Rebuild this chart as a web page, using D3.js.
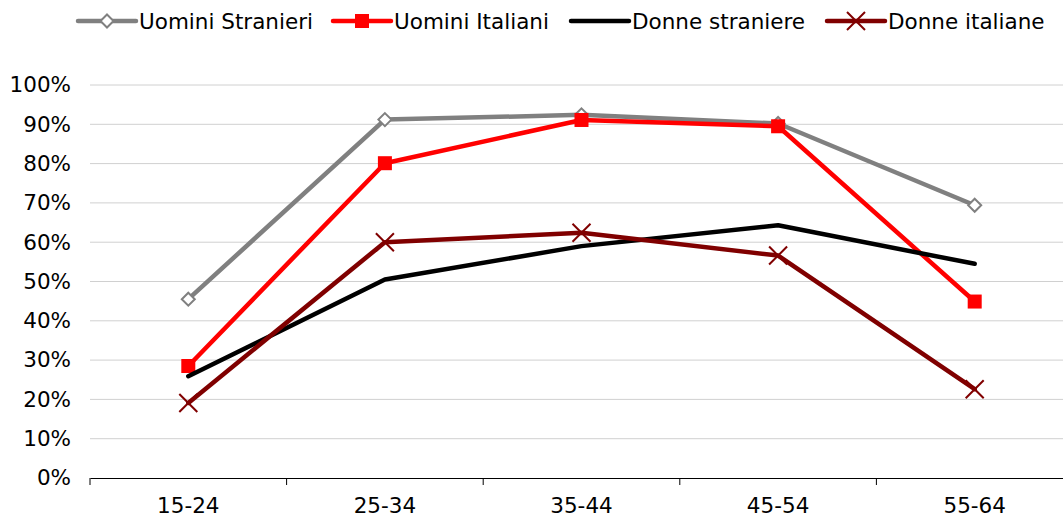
<!DOCTYPE html>
<html>
<head>
<meta charset="utf-8">
<script src="https://cdn.jsdelivr.net/npm/d3@7"></script>
<style>
  html, body { margin: 0; padding: 0; background: #fff; }
  svg { display: block; font-family: "DejaVu Sans", Verdana, sans-serif; }
</style>
</head>
<body>
<svg id="chart" width="1063" height="522"></svg>
<script>
// Tasso di occupazione per classe di età
const categories = ["15-24", "25-34", "35-44", "45-54", "55-64"];
const uominiStranieri = [45.5, 91.2, 92.4, 90.2, 69.4];
const uominiItaliani = [28.5, 80.1, 91.1, 89.5, 44.9];
const donneStraniere = [25.9, 50.5, 59.0, 64.3, 54.5];
const donneItaliane = [19.1, 60.0, 62.4, 56.6, 22.6];
const yTicks = [0, 10, 20, 30, 40, 50, 60, 70, 80, 90, 100];

const series = [
  { name: "Uomini Stranieri", values: uominiStranieri, color: "#808080", marker: "diamond" },
  { name: "Uomini Italiani", values: uominiItaliani, color: "#ff0000", marker: "square" },
  { name: "Donne straniere", values: donneStraniere, color: "#000000", marker: "none" },
  { name: "Donne italiane", values: donneItaliane, color: "#800000", marker: "cross" }
];

const svg = d3.select("#chart");
const plotLeft = 90, plotRight = 1073, plotTop = 85, plotBottom = 478;

const x = d3.scaleBand().domain(categories).range([plotLeft, plotRight]);
const y = d3.scaleLinear().domain([0, 100]).range([plotBottom, plotTop]);

// Griglia orizzontale
svg.append("g")
  .selectAll("line")
  .data(yTicks.filter(d => d > 0))
  .join("line")
  .attr("x1", plotLeft).attr("x2", 1063)
  .attr("y1", d => y(d)).attr("y2", d => y(d))
  .attr("stroke", "#d0d0d0").attr("stroke-width", 1);

// Asse Y
const yAxis = svg.append("g")
  .attr("transform", `translate(${plotLeft},0)`)
  .call(d3.axisLeft(y).tickValues(yTicks).tickFormat(d => d + "%").tickSize(0).tickPadding(19));
yAxis.select(".domain").remove();
yAxis.selectAll("text")
  .attr("font-size", 21.5)
  .attr("font-family", "DejaVu Sans, sans-serif")
  .attr("fill", "#000");

// Asse X
const xAxis = svg.append("g")
  .attr("transform", `translate(0,${plotBottom})`)
  .call(d3.axisBottom(x).tickSize(0).tickPadding(20));
xAxis.select(".domain").attr("stroke", "#000").attr("stroke-width", 1.2);
xAxis.selectAll("text")
  .attr("font-size", 21.5)
  .attr("font-family", "DejaVu Sans, sans-serif")
  .attr("fill", "#000");

// Tacche ai confini delle categorie
svg.append("g")
  .selectAll("line")
  .data(categories)
  .join("line")
  .attr("x1", d => x(d)).attr("x2", d => x(d))
  .attr("y1", plotBottom).attr("y2", plotBottom + 7)
  .attr("stroke", "#000").attr("stroke-width", 1);

const cx = d => x(d) + x.bandwidth() / 2;
const line = d3.line().x((d, i) => cx(categories[i])).y(d => y(d));

function drawMarker(g, type, color, px, py) {
  if (type === "diamond") {
    const s = 6.5;
    g.append("path")
      .attr("d", `M${px},${py - s}L${px + s},${py}L${px},${py + s}L${px - s},${py}Z`)
      .attr("fill", "#fff").attr("stroke", color).attr("stroke-width", 2);
  } else if (type === "square") {
    const s = 7;
    g.append("rect")
      .attr("x", px - s).attr("y", py - s).attr("width", 2 * s).attr("height", 2 * s)
      .attr("fill", color);
  } else if (type === "cross") {
    const s = 9;
    g.append("path")
      .attr("d", `M${px - s},${py - s}L${px + s},${py + s}M${px + s},${py - s}L${px - s},${py + s}`)
      .attr("stroke", color).attr("stroke-width", 2).attr("fill", "none");
  }
}

// Linee e marcatori
series.forEach(s => {
  const g = svg.append("g");
  g.append("path")
    .datum(s.values)
    .attr("d", line)
    .attr("fill", "none")
    .attr("stroke", s.color)
    .attr("stroke-width", 4.5)
    .attr("stroke-linejoin", "round")
    .attr("stroke-linecap", "round");
  s.values.forEach((v, i) => drawMarker(g, s.marker, s.color, cx(categories[i]), y(v)));
});

// Legenda
const legendX = [78, 333, 571, 827];
const legendY = 21;
series.forEach((s, i) => {
  const g = svg.append("g");
  const x0 = legendX[i];
  g.append("line")
    .attr("x1", x0).attr("x2", x0 + 58)
    .attr("y1", legendY).attr("y2", legendY)
    .attr("stroke", s.color).attr("stroke-width", 4.5)
    .attr("stroke-linecap", "round");
  drawMarker(g, s.marker, s.color, x0 + 29, legendY);
  g.append("text")
    .attr("x", x0 + 61).attr("y", legendY)
    .attr("dy", "0.36em")
    .attr("font-size", 21.5)
    .attr("fill", "#000")
    .text(s.name);
});
</script>
</body>
</html>
